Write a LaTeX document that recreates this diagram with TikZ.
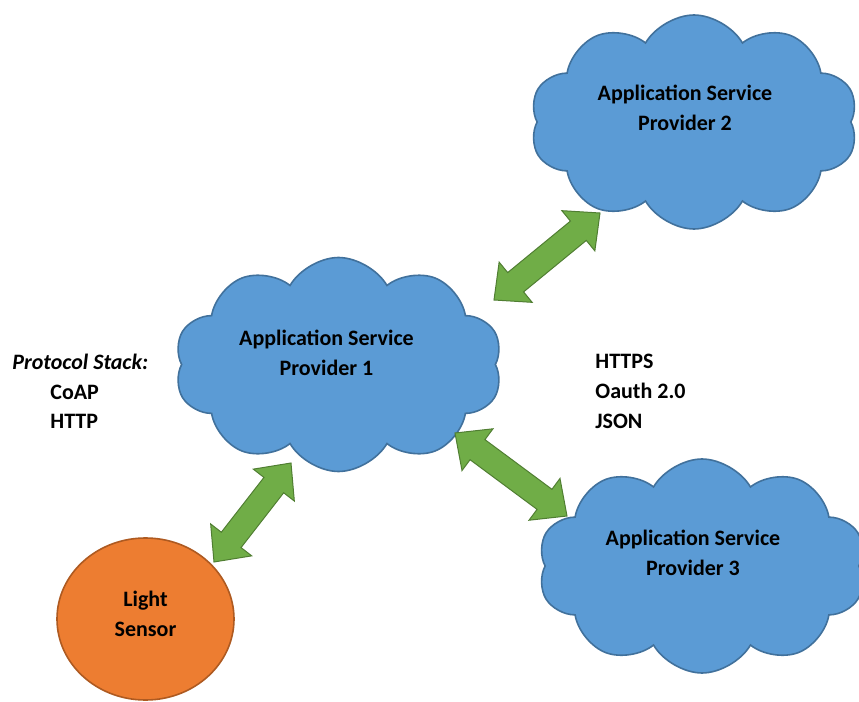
\documentclass[tikz,border=0pt]{standalone}
\usepackage{fontspec}
\setmainfont{Carlito}
\usepackage{tikz}
\usetikzlibrary{calc,shapes.symbols,shapes.geometric}

\definecolor{cloudblue}{HTML}{5B9BD5}
\definecolor{cloudline}{HTML}{41719C}
\definecolor{sensororange}{HTML}{ED7D31}
\definecolor{sensorline}{HTML}{AE5A21}
\definecolor{arrowgreen}{HTML}{70AD47}
\definecolor{arrowline}{HTML}{507E32}

\tikzset{
  asp/.style = {cloud, cloud puffs=10, cloud puff arc=120, cloud ignores aspect,
                fill=cloudblue, draw=cloudline, line width=0.8pt,
                minimum width=164pt, minimum height=107pt},
  lbl/.style = {font=\fontsize{11}{15}\selectfont\bfseries, align=center, inner sep=0pt},
  greenarrow/.style = {fill=arrowgreen, draw=arrowline, line width=0.5pt, line join=miter}
}

\newcommand\headlen{14pt}
\newcommand\headw{13pt}
\newcommand\shaftw{6.25pt}
% double block arrow between two named points
\newcommand\biarrow[2]{%
  \coordinate (ha) at ($(#1)!\headlen!(#2)$);
  \coordinate (hb) at ($(#2)!\headlen!(#1)$);
  \draw[greenarrow]
    (#1) -- ($(ha)!\headw!90:(#2)$) -- ($(ha)!\shaftw!90:(#2)$)
    -- ($(hb)!\shaftw!-90:(#1)$) -- ($(hb)!\headw!-90:(#1)$)
    -- (#2)
    -- ($(hb)!\headw!90:(#1)$) -- ($(hb)!\shaftw!90:(#1)$)
    -- ($(ha)!\shaftw!-90:(#2)$) -- ($(ha)!\headw!-90:(#2)$) -- cycle;
}

\begin{document}
\begin{tikzpicture}[x=0.5pt, y=-0.5pt]
    \useasboundingbox (0,0) rectangle (859,702);

    % clouds
    \node[asp] (asp1) at (338.5,364.5) {};
    \node[asp] (asp2) at (694,122) {};
    \node[asp] (asp3) at (702,566) {};
    \node[lbl] (asp1text) at ([shift={(-12,-12)}]asp1.center) {Application Service\\Provider 1};
    \node[lbl] (asp2text) at ([shift={(-9,-14)}]asp2.center) {Application Service\\Provider 2};
    \node[lbl] (asp3text) at ([shift={(-9,-13)}]asp3.center) {Application Service\\Provider 3};

    % sensor
    \node[ellipse, fill=sensororange, draw=sensorline, line width=0.8pt,
          minimum width=88.5pt, minimum height=81pt] (sensor) at (145.5,619) {};
    \node[lbl] (sensortext) at ([shift={(0,-5)}]sensor.center) {Light\\Sensor};

    % protocols
    \node[lbl, anchor=west, font=\fontsize{11}{15}\selectfont\bfseries\itshape] (stack) at (12,362) {Protocol Stack:};
    \node[lbl, anchor=west] (coap) at (50,392) {CoAP};
    \node[lbl, anchor=west] (http) at (50,421) {HTTP};
    \node[lbl, anchor=west, align=left] (web) at (595,391) {HTTPS\\Oauth 2.0\\JSON};

    % arrows
    \coordinate (s1) at (214,562);
    \coordinate (s2) at (291,463);
    \coordinate (p1) at (494,300);
    \coordinate (p2) at (600,213);
    \coordinate (q1) at (455,433);
    \coordinate (q2) at (567,516);
    \biarrow{s1}{s2}
    \biarrow{p1}{p2}
    \biarrow{q1}{q2}
\end{tikzpicture}
\end{document}
